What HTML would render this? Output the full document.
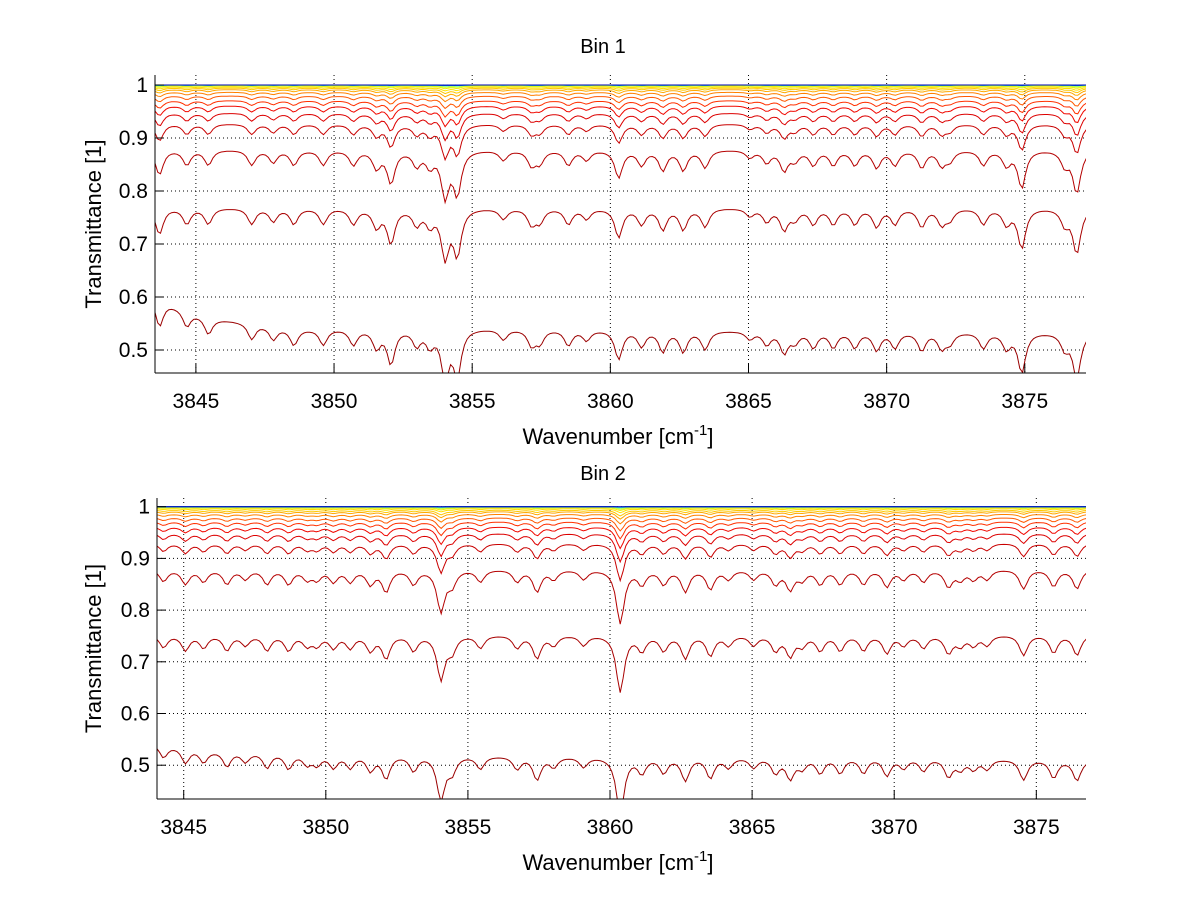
<!DOCTYPE html>
<html><head><meta charset="utf-8">
<style>
html,body{margin:0;padding:0;background:#fff;}
svg{display:block;font-family:"Liberation Sans",Arial,sans-serif;}
</style></head>
<body>
<svg id="chart" width="1200" height="901" viewBox="0 0 1200 901" xmlns="http://www.w3.org/2000/svg">
<rect width="1200" height="901" fill="#fff"/>
</svg>
<script>
// ---------- data ----------
const xTicks = [3845, 3850, 3855, 3860, 3865, 3870, 3875];
const yTicks = [0.5, 0.6, 0.7, 0.8, 0.9, 1];
const yTickLabels = ["0.5", "0.6", "0.7", "0.8", "0.9", "1"];
const titles = ["Bin 1", "Bin 2"];

// Absorption line list, Bin 1 (wavenumber, depth)
const lines1Wn = [3843.68,3844.67,3845.45,3847.02,3847.80,3848.55,3849.61,3850.70,3851.54,3852.06,3852.99,3853.47,3854.02,3854.46,3856.13,3857.15,3857.45,3858.48,3859.14,3860.30,3861.13,3861.90,3862.64,3863.43,3865.05,3865.66,3866.29,3866.68,3867.35,3868.07,3868.85,3869.64,3870.30,3871.27,3871.99,3872.29,3873.50,3874.34,3874.89,3876.45,3876.88];
const lines1Depth = [0.05,0.03,0.03,0.03,0.025,0.03,0.03,0.03,0.035,0.065,0.03,0.03,0.09,0.085,0.02,0.03,0.025,0.03,0.02,0.055,0.03,0.04,0.04,0.035,0.015,0.025,0.04,0.02,0.03,0.03,0.03,0.035,0.03,0.035,0.03,0.02,0.03,0.03,0.075,0.03,0.085];
// Absorption line list, Bin 2
const lines2Wn = [3844.29,3845.06,3845.70,3846.52,3847.17,3847.93,3848.69,3849.34,3849.69,3850.27,3850.86,3851.57,3852.12,3853.09,3854.05,3854.44,3855.44,3856.73,3857.43,3858.02,3859.07,3860.36,3861.12,3861.89,3862.65,3863.53,3864.17,3865.05,3865.82,3866.34,3866.76,3867.40,3868.10,3868.92,3869.74,3870.33,3871.03,3871.91,3872.33,3872.79,3873.27,3874.55,3875.61,3876.43];
const lines2Depth = [0.025,0.03,0.025,0.03,0.02,0.03,0.03,0.02,0.02,0.025,0.025,0.03,0.045,0.03,0.085,0.03,0.025,0.025,0.045,0.02,0.02,0.11,0.03,0.03,0.045,0.04,0.02,0.02,0.03,0.04,0.02,0.03,0.03,0.03,0.035,0.02,0.025,0.035,0.02,0.02,0.02,0.04,0.035,0.04];

// Continuum level of each series (bottom to top) and dip scale
const cont1 = [0.53,0.765,0.875,0.925,0.946,0.96,0.97,0.979,0.986,0.991,0.994,0.996,0.998,0.999,1,1,1,1,1,1];
const cont2 = [0.515,0.748,0.875,0.927,0.947,0.96,0.97,0.978,0.985,0.99,0.993,0.996,0.998,0.999,1,1,1,1,1,1];
const scale = [1,1,0.95,0.65,0.5,0.38,0.3,0.23,0.17,0.13,0.1,0.07,0.05,0.035,0.025,0.015,0.01,0.006,0.004,0.002];
// Lowest series continuum knots (left-edge rise)
const low1KnotWn = [3843.5,3844.5,3845.5,3847,3848.5,3855,3865,3877.3];
const low1KnotVal = [0.595,0.575,0.557,0.548,0.537,0.538,0.533,0.53];
const low2KnotWn = [3844,3846,3850,3860,3870,3876.8];
const low2KnotVal = [0.537,0.525,0.517,0.512,0.511,0.505];

const colors = ["#9a0000","#a80000","#b40000","#c80000","#dc0000","#f00800","#ff3000","#ff5800","#ff8000","#ffa800","#ffc800","#ffe000","#f0f000","#c8ff30","#90ff70","#50ffb0","#20e8ff","#00a8ff","#0050ff","#0000b0"];

// ---------- layout ----------
const panels = [
  {x0:155, x1:1086, yTop:75, yBot:373, wnMin:3843.52, pxPerWn:27.63, y1:85, pxPerUnit:530, titleY:53, xlabY:444,
   lw:lines1Wn, ld:lines1Depth, cont:cont1, kw:low1KnotWn, kv:low1KnotVal},
  {x0:157, x1:1086, yTop:498, yBot:799, wnMin:3844.06, pxPerWn:28.42, y1:506.7, pxPerUnit:517, titleY:480, xlabY:870,
   lw:lines2Wn, ld:lines2Depth, cont:cont2, kw:low2KnotWn, kv:low2KnotVal}
];

const svg = document.getElementById('chart');
const NS = 'http://www.w3.org/2000/svg';
function mk(tag, attrs){ const e=document.createElementNS(NS,tag); for(const k in attrs) e.setAttribute(k,attrs[k]); svg.appendChild(e); return e; }
function interp(xs, vs, x){ if(x<=xs[0]) return vs[0]; for(let i=1;i<xs.length;i++){ if(x<=xs[i]){ const t=(x-xs[i-1])/(xs[i]-xs[i-1]); return vs[i-1]+t*(vs[i]-vs[i-1]); } } return vs[vs.length-1]; }

panels.forEach((p, pi) => {
  const wnMax = p.wnMin + (p.x1 - p.x0)/p.pxPerWn;
  const X = wn => p.x0 + (wn - p.wnMin)*p.pxPerWn;
  const Y = v => p.y1 + (1 - v)*p.pxPerUnit;

  const defs = document.createElementNS(NS,'defs'); svg.appendChild(defs);
  const cp = document.createElementNS(NS,'clipPath'); cp.setAttribute('id','clip'+pi); defs.appendChild(cp);
  const cr = document.createElementNS(NS,'rect');
  cr.setAttribute('x',p.x0); cr.setAttribute('y',p.yTop-6); cr.setAttribute('width',p.x1-p.x0); cr.setAttribute('height',p.yBot-p.yTop+6);
  cp.appendChild(cr);

  // grid
  xTicks.forEach(t => {
    const gx = X(t);
    const g = mk('line',{x1:gx,y1:p.yTop,x2:gx,y2:p.yBot,stroke:'#000','stroke-width':1,'stroke-dasharray':'1,3'});
    
    
  });
  yTicks.forEach(t => {
    const gy = Y(t);
    const g = mk('line',{x1:p.x0,y1:gy,x2:p.x1,y2:gy,stroke:'#000','stroke-width':1,'stroke-dasharray':'1,3'});
    
    
  });

  // series
  const D = [];
  const wns = [];
  for(let w=p.wnMin; w<=wnMax+0.12; w+=0.1){
    wns.push(w);
    let s=0;
    for(let i=0;i<p.lw.length;i++){ const d=(w-p.lw[i])/0.17; s += p.ld[i]/(1+d*d); }
    D.push(s);
  }
  const Dmin = Math.min(...D);
  const grp = mk('g',{'clip-path':'url(#clip'+pi+')'});
  
  
  for(let k=0;k<p.cont.length;k++){
    let d='';
    wns.forEach((w,i)=>{
      const c = k===0 ? interp(p.kw,p.kv,w) : p.cont[k];
      const v = c - scale[k]*(D[i]-Dmin);
      d += (i?'L':'M') + X(w).toFixed(1) + ',' + Y(v).toFixed(1);
    });
    const path = document.createElementNS(NS,'path');
    path.setAttribute('d',d); path.setAttribute('fill','none'); path.setAttribute('stroke',colors[k]); path.setAttribute('stroke-width','1');
    
    
    grp.appendChild(path);
  }

  // axes
  const ax = mk('line',{x1:p.x0,y1:p.yBot,x2:p.x1,y2:p.yBot,stroke:'#000','stroke-width':1});
  
  
  const ay = mk('line',{x1:p.x0,y1:p.yTop,x2:p.x0,y2:p.yBot,stroke:'#000','stroke-width':1});
  
  

  xTicks.forEach(t => {
    const gx = X(t);
    mk('line',{x1:gx,y1:p.yBot,x2:gx,y2:p.yBot-9,stroke:'#000','stroke-width':1});
    const tx = mk('text',{x:gx,y:p.yBot+35,'font-size':21,'text-anchor':'middle',fill:'#000'});
    tx.textContent = t;
    
    
  });
  yTicks.forEach((t,i) => {
    const gy = Y(t);
    mk('line',{x1:p.x0,y1:gy,x2:p.x0+9,y2:gy,stroke:'#000','stroke-width':1});
    const tx = mk('text',{x:p.x0-7,y:gy+7,'font-size':21,'text-anchor':'end',fill:'#000'});
    tx.textContent = yTickLabels[i];
    
    
  });

  const tt = mk('text',{x:603,y:p.titleY,'font-size':20,'text-anchor':'middle',fill:'#000'});
  tt.textContent = titles[pi];
  
  

  const xl = mk('text',{x:618,y:p.xlabY,'font-size':22,'text-anchor':'middle',fill:'#000'});
  xl.innerHTML = 'Wavenumber [cm<tspan dy="-9" font-size="15">-1</tspan><tspan dy="9">]</tspan>';
  
  

  const cy = (p.yTop+p.yBot)/2;
  const yl = mk('text',{x:0,y:0,'font-size':22,'text-anchor':'middle',fill:'#000',transform:'translate(101,'+cy+') rotate(-90)'});
  yl.textContent = 'Transmittance [1]';
  
  
});
</script>
</body></html>
